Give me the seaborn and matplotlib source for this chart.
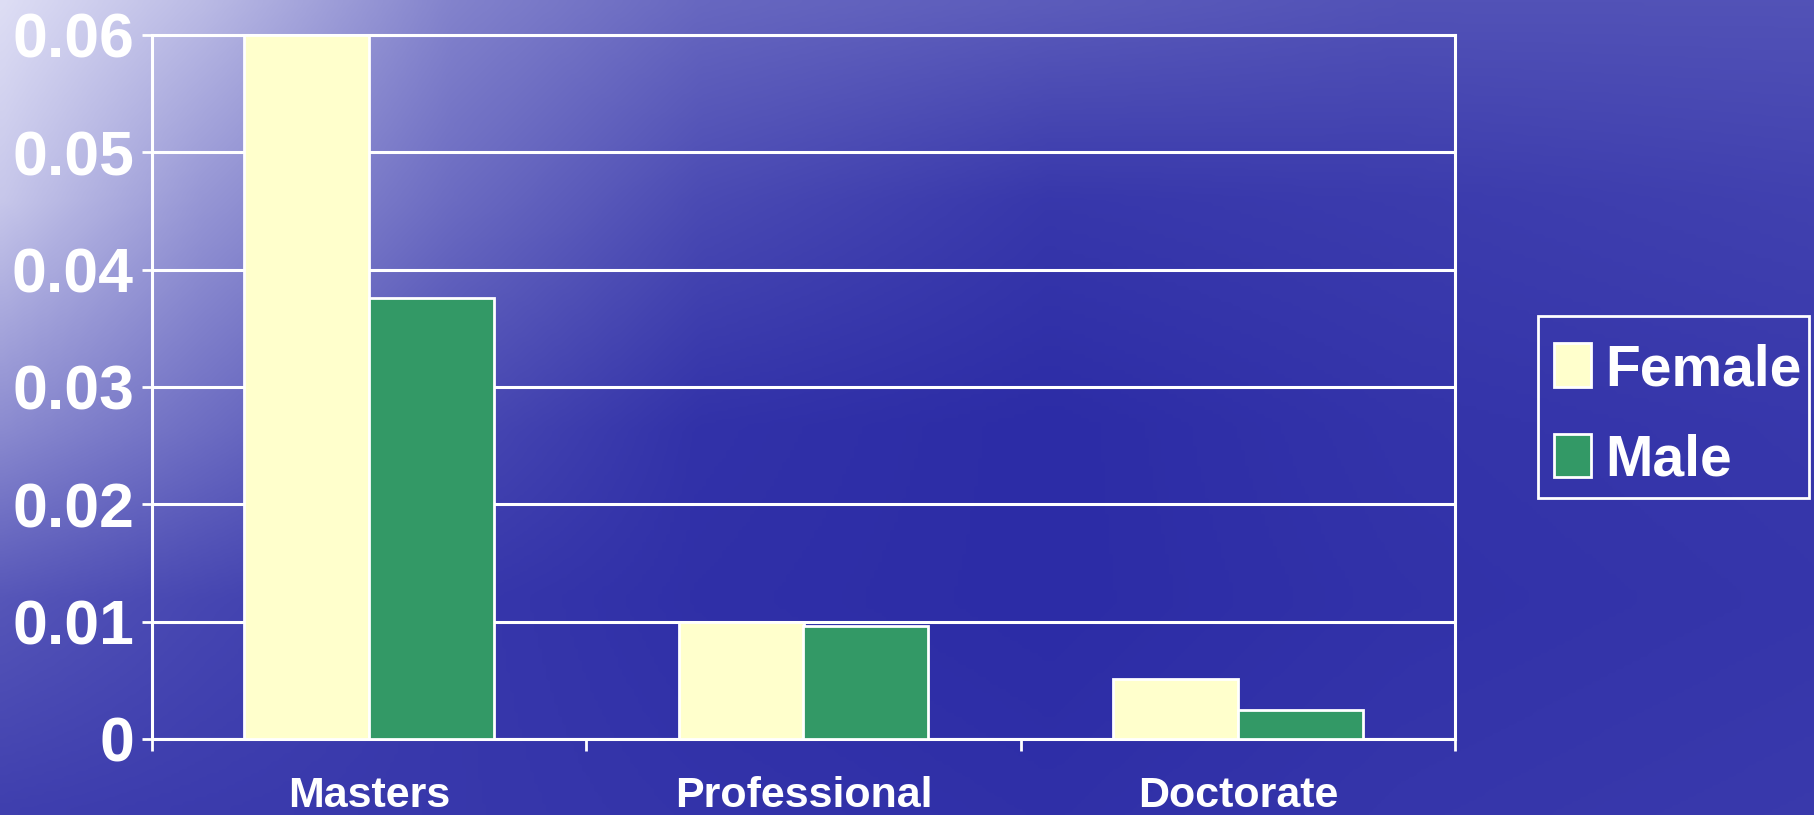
import numpy as np
import pandas as pd
import matplotlib
matplotlib.use("Agg")
import matplotlib.pyplot as plt
from matplotlib import font_manager as fm
from matplotlib.patches import Rectangle
import seaborn as sns

# Data
degrees = ["Masters", "Professional", "Doctorate"]
female = [0.060, 0.0100, 0.0051]
male = [0.0376, 0.0096, 0.0025]
y_ticks = [0, 0.01, 0.02, 0.03, 0.04, 0.05, 0.06]
y_tick_labels = ["0", "0.01", "0.02", "0.03", "0.04", "0.05", "0.06"]
genders = ["Female", "Male"]
colors = {"Female": "#FFFFCC", "Male": "#339966"}

df = pd.DataFrame({
    "degree": degrees * 2,
    "gender": ["Female"] * len(degrees) + ["Male"] * len(degrees),
    "value": female + male,
})


def font_available(name):
    try:
        fm.findfont(fm.FontProperties(family=name), fallback_to_default=False)
        return True
    except Exception:
        return False


if font_available("Liberation Sans Narrow"):
    FAMILY = "Liberation Sans Narrow"
    sizes = {"ytick": 48, "xtick": 34, "legend": 46}
else:
    FAMILY = "Liberation Sans"
    sizes = {"ytick": 45, "xtick": 31, "legend": 41}

sns.set_theme(style="white")
plt.rcParams["font.family"] = [FAMILY, "DejaVu Sans"]
plt.rcParams["font.weight"] = "bold"

W, H, DPI = 1815, 815, 100
fig = plt.figure(figsize=(W / DPI, H / DPI), dpi=DPI)

# Backdrop: deep blue brightening toward a pale upper-left corner.
# Lightness control grid (0 = deep blue, 1 = near white), pixel anchors.
cx = np.array([0, 200, 450, 700, 1050, 1400, 1815], dtype=float)
cy = np.array([0, 200, 430, 600, 815], dtype=float)
light = np.array([
    [0.92, 0.74, 0.45, 0.31, 0.25, 0.20, 0.20],
    [0.80, 0.55, 0.33, 0.16, 0.06, 0.08, 0.11],
    [0.49, 0.34, 0.15, 0.03, 0.00, 0.04, 0.06],
    [0.22, 0.14, 0.06, 0.02, 0.00, 0.03, 0.05],
    [0.10, 0.08, 0.06, 0.04, 0.02, 0.05, 0.07],
])
px = np.linspace(0, W, 454)
py = np.linspace(0, H, 204)
rows = np.array([np.interp(px, cx, r) for r in light])
field = np.array([np.interp(py, cy, rows[:, j]) for j in range(len(px))]).T
deep = np.array([44, 44, 166], dtype=float)
pale = np.array([238, 238, 252], dtype=float)
img = deep + field[..., None] * (pale - deep)

bg_ax = fig.add_axes([0, 0, 1, 1], zorder=-10)
bg_ax.imshow(np.clip(img, 0, 255).astype(np.uint8), aspect="auto",
             extent=[0, 1, 0, 1], interpolation="bicubic")
bg_ax.set_axis_off()

ax = fig.add_axes([152 / W, 1 - 739 / H, (1455 - 152) / W, (739 - 35) / H])
ax.patch.set_alpha(0)

sns.barplot(data=df, x="degree", y="value", hue="gender", order=degrees,
            hue_order=genders, palette=colors, width=0.575, saturation=1,
            edgecolor="white", linewidth=2, ax=ax, zorder=3)

ax.set_ylim(0, 0.06)
ax.set_xlim(-0.5, len(degrees) - 0.5)
ax.set_yticks(y_ticks)
ax.set_yticklabels(y_tick_labels)
ax.set_xlabel("")
ax.set_ylabel("")

ax.set_axisbelow(True)
ax.yaxis.grid(True, color="white", linewidth=2.2)
ax.xaxis.grid(False)
for sp in ax.spines.values():
    sp.set_color("white")
    sp.set_linewidth(2.2)
    sp.set_visible(True)

ax.set_xticks(range(len(degrees)))
ax.set_xticklabels(degrees)
ax.set_xticks(np.arange(-0.5, len(degrees)), minor=True)
ax.tick_params(axis="x", which="major", length=0, pad=26.5,
               labelsize=sizes["xtick"], labelcolor="white")
ax.tick_params(axis="x", which="minor", length=8.5, width=2, color="white",
               direction="out", bottom=True)
ax.tick_params(axis="y", which="major", length=7, width=2, color="white",
               direction="out", left=True, pad=6,
               labelsize=sizes["ytick"], labelcolor="white")
for lab in ax.get_xticklabels() + ax.get_yticklabels():
    lab.set_fontweight("bold")

# Legend entries without a frame; the box is drawn separately
handles, labels = ax.get_legend_handles_labels()
if ax.get_legend() is not None:
    ax.get_legend().remove()
leg = fig.legend(handles, labels, loc="upper left",
                 bbox_to_anchor=(1554 / W, 1 - 343 / H),
                 bbox_transform=fig.transFigure, frameon=False,
                 prop={"family": FAMILY, "weight": "bold", "size": sizes["legend"]},
                 labelcolor="white", handlelength=0.65, handleheight=0.8,
                 handletextpad=0.25, labelspacing=0.64, borderpad=0,
                 borderaxespad=0)
for p in leg.get_patches():
    p.set_edgecolor("white")
    p.set_linewidth(2)

fig.add_artist(Rectangle((1538 / W, 1 - 498 / H), (1809 - 1538) / W,
                         (498 - 316) / H, transform=fig.transFigure,
                         fill=False, edgecolor="white", linewidth=2))

fig.savefig("out.png", dpi=DPI)
